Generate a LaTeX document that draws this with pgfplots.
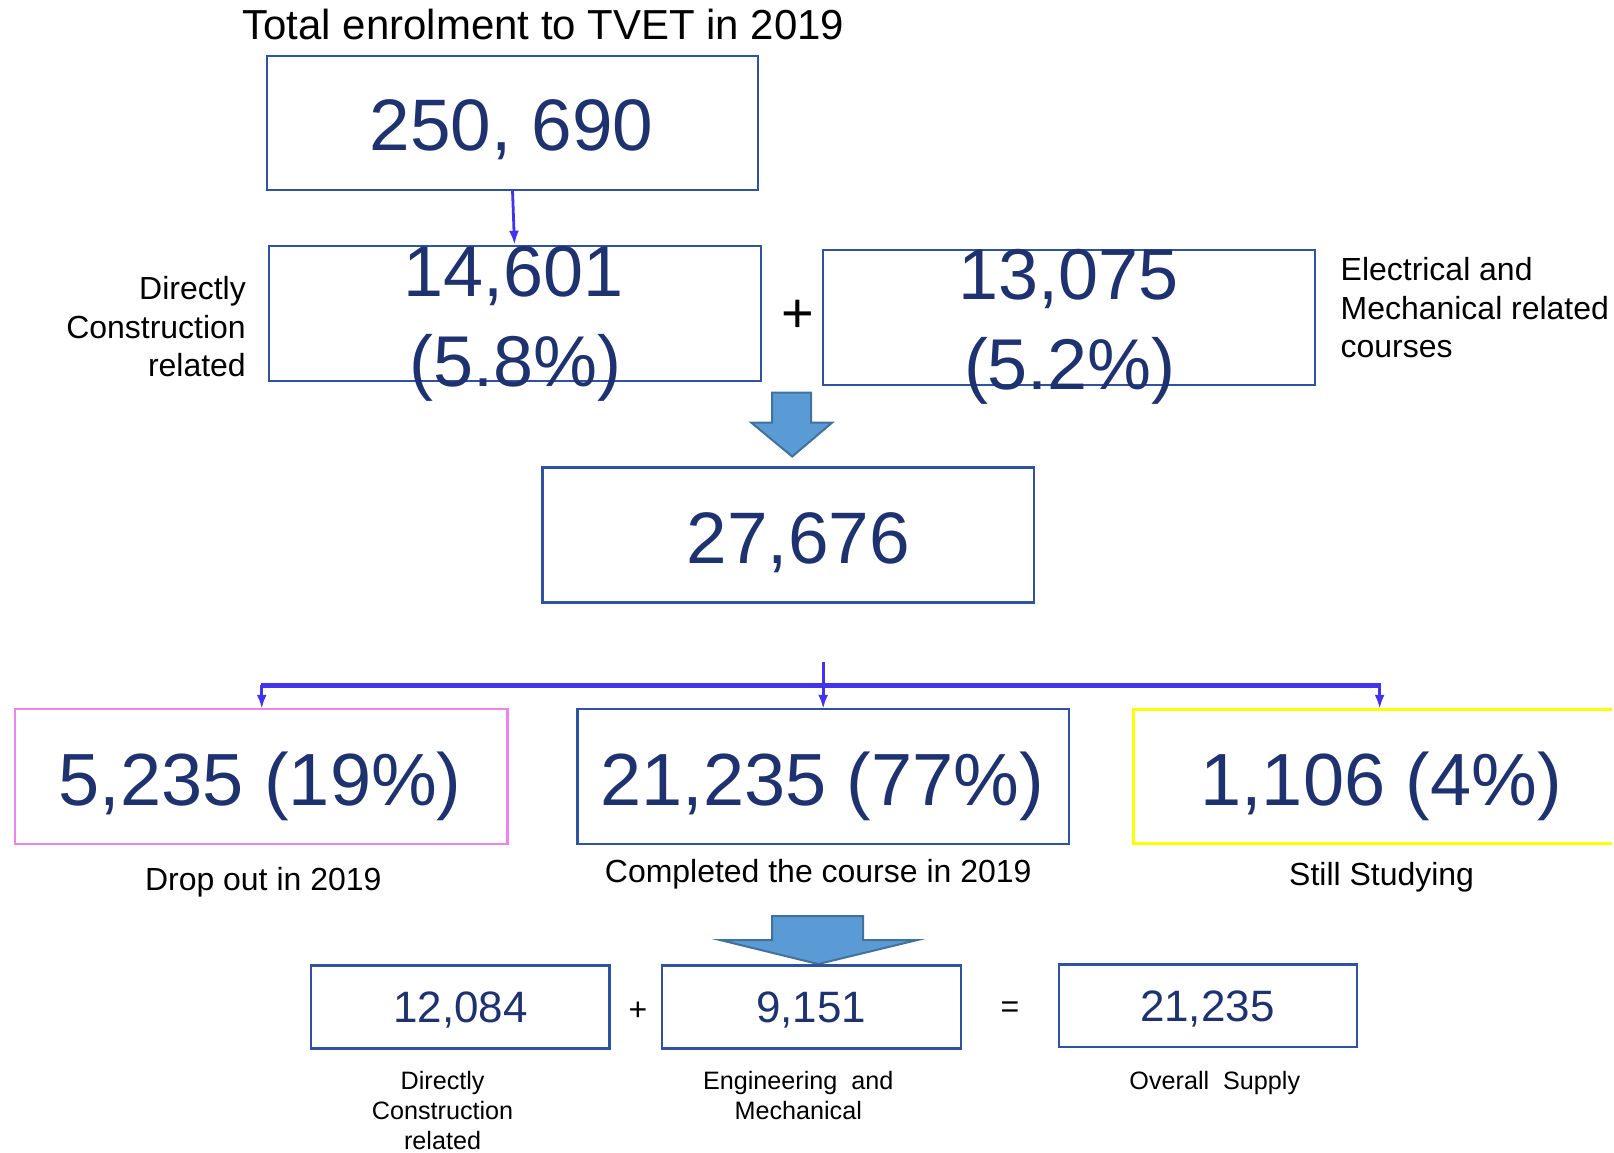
\documentclass[border=0pt]{standalone}
\usepackage{pgfplots}
\pgfplotsset{compat=1.18}
\usetikzlibrary{arrows.meta}
\usepackage{fontspec}
\setmainfont{Liberation Sans}
\definecolor{navy}{HTML}{1E3270}
\definecolor{boxblue}{HTML}{2F52A2}
\definecolor{conn}{HTML}{4433EE}
\definecolor{pinkb}{HTML}{EE82EE}
\definecolor{yellowb}{HTML}{FFFF00}
\definecolor{arrfill}{HTML}{5B9BD5}
\definecolor{arrdraw}{HTML}{41719C}
\newcommand{\fs}[1]{\fontsize{#1bp}{1.2\dimexpr#1bp\relax}\selectfont}
\begin{document}
\begin{tikzpicture}[every node/.append style={inner sep=0pt,outer sep=0pt}]
\begin{axis}[width=807bp,height=577bp,scale only axis,
  xmin=0,xmax=1614,ymin=0,ymax=1154,y dir=reverse,hide axis,clip=false]
\addplot[draw=none] coordinates {(0,0) (1614,1154)};
% title
\node[anchor=base,font=\fs{21}] at (axis cs:544,40) {Total enrolment to TVET in 2019};
% box 1
\draw[boxblue,line width=1.1bp] (axis cs:267,56) rectangle (axis cs:759,190);
\node[anchor=base,font=\fs{36.5},text=navy] at (axis cs:512,151) {250, 690};
% connector arrow
\draw[conn,line width=1.4bp,-{Latex[length=7bp,width=5bp]}] (axis cs:513,190) -- (axis cs:515,245);
% box 2
\draw[boxblue,line width=1.1bp] (axis cs:269,246) rectangle (axis cs:762,381);
\node[anchor=base,font=\fs{36},text=navy] at (axis cs:514,297) {14,601};
\node[anchor=base,font=\fs{36},text=navy] at (axis cs:516,387) {(5.8\%)};
% plus
\node[font=\fs{28}] at (axis cs:799,317) {+};
% box 3
\draw[boxblue,line width=1.1bp] (axis cs:824,250) rectangle (axis cs:1316,385);
\node[anchor=base,font=\fs{36},text=navy] at (axis cs:1070,300) {13,075};
\node[anchor=base,font=\fs{36},text=navy] at (axis cs:1071,390) {(5.2\%)};
% side labels
\node[anchor=base east,font=\fs{16}] at (axis cs:246,300) {Directly};
\node[anchor=base east,font=\fs{16}] at (axis cs:246,339) {Construction};
\node[anchor=base east,font=\fs{16}] at (axis cs:246,377) {related};
\node[anchor=base west,font=\fs{16}] at (axis cs:1342,281) {Electrical and};
\node[anchor=base west,font=\fs{16}] at (axis cs:1342,320) {Mechanical related};
\node[anchor=base west,font=\fs{16}] at (axis cs:1342,358) {courses};
% block arrow 1
\addplot[fill=arrfill,draw=arrdraw,line width=1bp] coordinates {
 (773,393) (812,393) (812,423) (833,423) (793,457) (752,423) (773,423)} -- cycle;
% box 4
\draw[boxblue,line width=1.1bp] (axis cs:543,468) rectangle (axis cs:1035,603);
\node[anchor=base,font=\fs{36.5},text=navy] at (axis cs:799,564) {27,676};
% tree connector
\draw[conn,line width=1.4bp] (axis cs:824,663) -- (axis cs:824,686);
\draw[conn,line width=2.4bp] (axis cs:261,686) -- (axis cs:1382,686);
\draw[conn,line width=1.4bp,-{Latex[length=7bp,width=5bp]}] (axis cs:262,686) -- (axis cs:262,709.5);
\draw[conn,line width=1.4bp,-{Latex[length=7bp,width=5bp]}] (axis cs:824,686) -- (axis cs:824,709.5);
\draw[conn,line width=1.4bp,-{Latex[length=7bp,width=5bp]}] (axis cs:1381,686) -- (axis cs:1381,709.5);
% row boxes
\draw[pinkb,line width=1.1bp] (axis cs:15,710) rectangle (axis cs:508,844.5);
\draw[boxblue,line width=1.1bp] (axis cs:578,710) rectangle (axis cs:1070,844.5);
\draw[yellowb,line width=1.6bp] (axis cs:1614,710) -- (axis cs:1135,710) -- (axis cs:1135,844.5) -- (axis cs:1614,844.5);
\node[anchor=base,font=\fs{37},text=navy] at (axis cs:260.5,806.5) {5,235 (19\%)};
\node[anchor=base,font=\fs{37},text=navy] at (axis cs:823,806.5) {21,235 (77\%)};
\node[anchor=base,font=\fs{37},text=navy] at (axis cs:1382.5,806.5) {1,106 (4\%)};
\node[anchor=base,font=\fs{16}] at (axis cs:263.5,891.5) {Drop out in 2019};
\node[anchor=base,font=\fs{16}] at (axis cs:819,883) {Completed the course in 2019};
\node[anchor=base,font=\fs{16}] at (axis cs:1383,886) {Still Studying};
% block arrow 2
\addplot[fill=arrfill,draw=arrdraw,line width=1bp] coordinates {
 (773,917) (864,917) (864,941) (918,941) (819,965) (721,941) (773,941)} -- cycle;
% bottom boxes
\draw[boxblue,line width=1.1bp] (axis cs:311,966.5) rectangle (axis cs:610,1049.5);
\draw[boxblue,line width=1.1bp] (axis cs:663,966.5) rectangle (axis cs:962,1049.5);
\draw[boxblue,line width=1.1bp] (axis cs:1060,965.5) rectangle (axis cs:1358,1048);
\node[anchor=base,font=\fs{22},text=navy] at (axis cs:461,1024) {12,084};
\node[anchor=base,font=\fs{22},text=navy] at (axis cs:812,1024) {9,151};
\node[anchor=base,font=\fs{22},text=navy] at (axis cs:1208.5,1023) {21,235};
\node[font=\fs{16}] at (axis cs:638.5,1012) {+};
\node[font=\fs{16}] at (axis cs:1011,1011) {=};
\node[anchor=base,font=\fs{12.6}] at (axis cs:443,1091) {Directly};
\node[anchor=base,font=\fs{12.6}] at (axis cs:443,1121) {Construction};
\node[anchor=base,font=\fs{12.6}] at (axis cs:443,1151) {related};
\node[anchor=base,font=\fs{12.6}] at (axis cs:799,1091) {Engineering\ \ and};
\node[anchor=base,font=\fs{12.6}] at (axis cs:799,1121) {Mechanical};
\node[anchor=base,font=\fs{12.6}] at (axis cs:1216,1091) {Overall\ \ Supply};
\end{axis}
\end{tikzpicture}
\end{document}
